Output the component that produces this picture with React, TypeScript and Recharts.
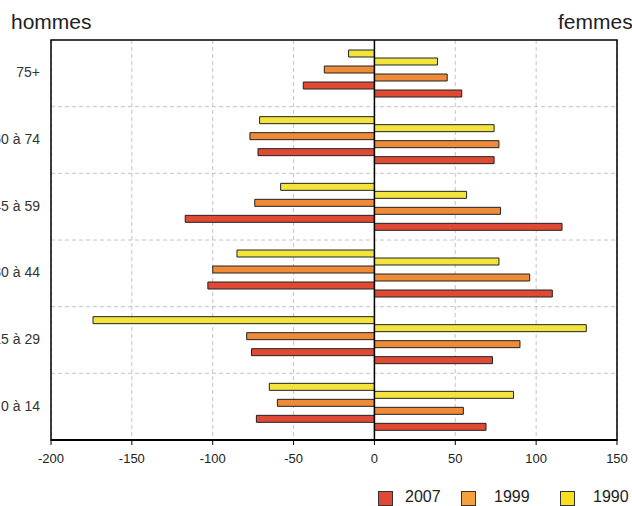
import { Bar, BarChart, CartesianGrid, ReferenceArea, ReferenceLine, XAxis, YAxis } from "recharts";

const trancheAge = ["75+", "60 à 74", "45 à 59", "30 à 44", "15 à 29", "0 à 14"];

const hommes1990 = [-16, -71, -58, -85, -174, -65];
const femmes1990 = [39, 74, 57, 77, 131, 86];
const hommes1999 = [-31, -77, -74, -100, -79, -60];
const femmes1999 = [45, 77, 78, 96, 90, 55];
const hommes2007 = [-44, -72, -117, -103, -76, -73];
const femmes2007 = [54, 74, 116, 110, 73, 69];

const graduations = [-200, -150, -100, -50, 0, 50, 100, 150];

const COULEURS = {
  a2007: "#E04A35",
  a1999: "#EF8A38",
  a1990: "#F2E43C",
};

const POLICE = "'Liberation Sans', Arial, sans-serif";

const donnees = trancheAge.map((t, i) => ({
  tranche: t,
  h1990: hommes1990[i],
  f1990: femmes1990[i],
  h1999: hommes1999[i],
  f1999: femmes1999[i],
  h2007: hommes2007[i],
  f2007: femmes2007[i],
}));

function TickAge({ y, payload }: any) {
  return (
    <text x={40} y={y} dy={4} textAnchor="end" fontSize={14} fill="#333" fontFamily={POLICE}>
      {payload.value}
    </text>
  );
}

function lignesEntreTranches({ offset }: any) {
  const n = trancheAge.length;
  return Array.from({ length: n - 1 }, (_, i) => offset.top + ((i + 1) * offset.height) / n);
}

const legende = [
  { label: "2007", couleur: COULEURS.a2007, carre: 378, texte: 405 },
  { label: "1999", couleur: "#F5A03A", carre: 461, texte: 494 },
  { label: "1990", couleur: "#F8E020", carre: 560, texte: 593 },
];

export default function App() {
  const barre = { isAnimationActive: false, stroke: "#222", strokeWidth: 1 };
  return (
    <div
      style={{
        position: "fixed",
        left: 0,
        top: 0,
        width: 632,
        height: 506,
        fontFamily: POLICE,
        overflow: "hidden",
        background: "#fff",
      }}
    >
      <BarChart
        width={632}
        height={506}
        data={donnees}
        layout="vertical"
        margin={{ top: 40, right: 15, bottom: 36, left: 0 }}
        barCategoryGap="15%"
        barGap={1}
      >
        <CartesianGrid
          stroke="#b5b5b5"
          strokeDasharray="4 3"
          strokeWidth={0.8}
          horizontalCoordinatesGenerator={lignesEntreTranches}
        />
        <XAxis
          type="number"
          domain={[-200, 150]}
          ticks={graduations}
          allowDataOverflow
          height={30}
          tickSize={5}
          tickMargin={9}
          axisLine={{ stroke: "#000", strokeWidth: 2 }}
          tickLine={{ stroke: "#000" }}
          tick={{ fontSize: 13, fill: "#222", fontFamily: POLICE }}
        />
        <YAxis type="category" dataKey="tranche" width={51} axisLine={false} tickLine={false} tick={<TickAge />} />
        <Bar dataKey="h1990" fill={COULEURS.a1990} {...barre} />
        <Bar dataKey="f1990" fill={COULEURS.a1990} {...barre} />
        <Bar dataKey="h1999" fill={COULEURS.a1999} {...barre} />
        <Bar dataKey="f1999" fill={COULEURS.a1999} {...barre} />
        <Bar dataKey="h2007" fill={COULEURS.a2007} {...barre} />
        <Bar dataKey="f2007" fill={COULEURS.a2007} {...barre} />
        <ReferenceLine x={0} stroke="#000" strokeWidth={1.5} />
        <ReferenceArea x1={-200} x2={150} fill="none" fillOpacity={0} stroke="#000" strokeWidth={1.5} />
      </BarChart>

      <div style={{ position: "absolute", left: 11, top: 11, fontSize: 21, lineHeight: "21px", color: "#222" }}>hommes</div>
      <div style={{ position: "absolute", left: 558, top: 11, fontSize: 21, lineHeight: "21px", color: "#222", whiteSpace: "nowrap" }}>
        femmes
      </div>

      {legende.map((l) => (
        <div key={l.label}>
          <span
            style={{
              position: "absolute",
              left: l.carre,
              top: 491,
              width: 13,
              height: 13,
              background: l.couleur,
              border: "1px solid #333",
            }}
          />
          <span style={{ position: "absolute", left: l.texte, top: 489, fontSize: 16, lineHeight: "16px", color: "#222", whiteSpace: "nowrap" }}>
            {l.label}
          </span>
        </div>
      ))}
    </div>
  );
}
